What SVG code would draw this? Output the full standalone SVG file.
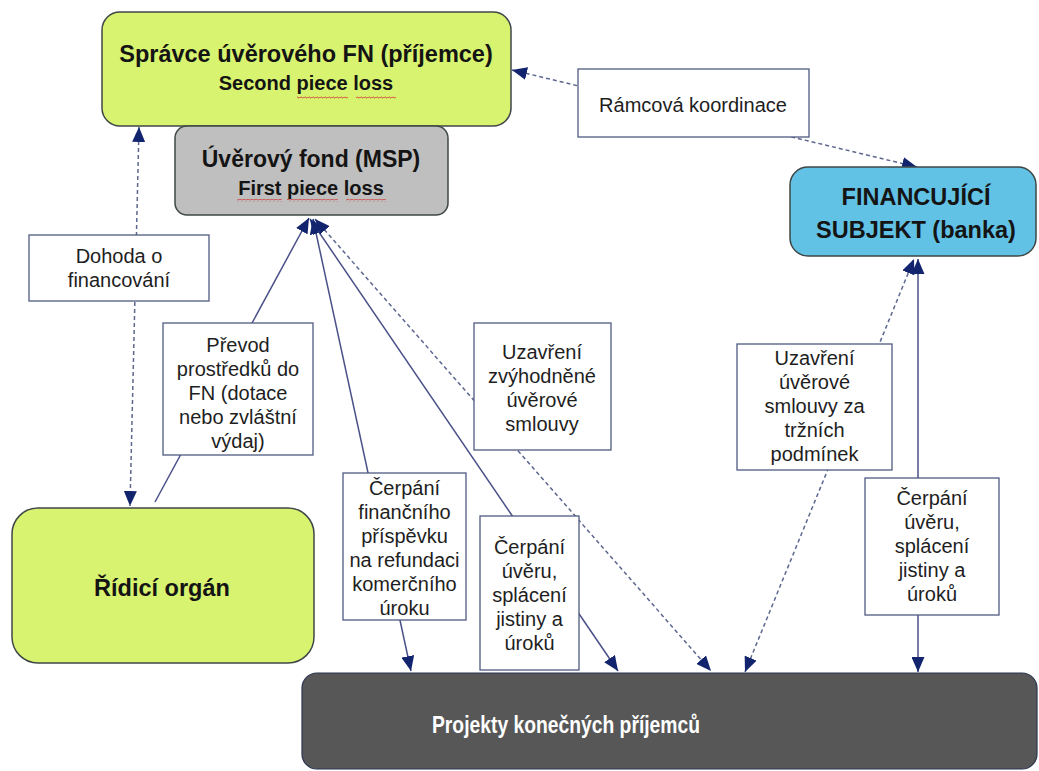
<svg xmlns="http://www.w3.org/2000/svg" width="1039" height="771" viewBox="0 0 1039 771">
<style>
.node{stroke:#3f4747;stroke-width:1.5}
.lbl{fill:#fff;stroke:#4e5a82;stroke-width:1.3}
.t{font-family:"Liberation Sans",Arial,sans-serif;font-size:20px;fill:#1e1e1e;text-anchor:middle}
.b{font-family:"Liberation Sans",Arial,sans-serif;font-weight:bold;fill:#141414;text-anchor:middle}
.solid{fill:none;stroke:#4a5088;stroke-width:1.5}
.dash{fill:none;stroke:#5d6790;stroke-width:1.5;stroke-dasharray:4 3}
.both{marker-start:url(#arr);marker-end:url(#arr)}
.end{marker-end:url(#arr)}
</style>
<defs>
<marker id="arr" markerUnits="userSpaceOnUse" markerWidth="15" markerHeight="13" viewBox="0 0 15 13" refX="15" refY="6.5" orient="auto-start-reverse">
<path d="M0,0 L15,6.5 L0,13 z" fill="#13246e"/>
</marker>
<pattern id="wave" patternUnits="userSpaceOnUse" width="4" height="3">
<path d="M0,2 L1,0.8 L3,2.2 L4,1" fill="none" stroke="#d23a3a" stroke-width="0.8"/>
</pattern>
</defs>
<rect width="1039" height="771" fill="#fff"/>

<g id="connectors">
<line class="dash both" x1="139" y1="127" x2="130" y2="506"/>
<line class="solid end" x1="155" y1="502" x2="309" y2="218"/>
<line class="solid both" x1="313" y1="219" x2="411" y2="671"/>
<line class="solid both" x1="310" y1="219" x2="618" y2="671"/>
<line class="dash both" x1="315" y1="219" x2="711" y2="671"/>
<line class="dash both" x1="512" y1="70" x2="917" y2="167"/>
<line class="dash both" x1="745" y1="672" x2="914" y2="259"/>
<line class="solid both" x1="918" y1="259" x2="918" y2="672"/>
</g>

<g id="spravce">
<rect class="node" x="102" y="12" width="409" height="114" rx="18" fill="#d8f36f"/>
<text class="b" x="306" y="62" font-size="23.5">Správce úvěrového FN (příjemce)</text>
<text class="b" x="306" y="90" font-size="20">Second piece loss</text>
<rect x="297" y="96" width="51" height="3" fill="url(#wave)"/>
<rect x="356" y="96" width="40" height="3" fill="url(#wave)"/>
</g>

<g id="fond">
<rect class="node" x="175" y="126" width="273" height="89" rx="12" fill="#bfbfbf"/>
<text class="b" x="311" y="167" font-size="23">Úvěrový fond (MSP)</text>
<text class="b" x="311" y="195" font-size="20">First piece loss</text>
<rect x="237" y="199" width="45" height="3" fill="url(#wave)"/>
<rect x="287" y="199" width="51" height="3" fill="url(#wave)"/>
<rect x="346" y="199" width="40" height="3" fill="url(#wave)"/>
</g>

<g id="ramcova">
<rect class="lbl" x="578" y="69" width="231" height="68"/>
<text class="t" x="693" y="112">Rámcová koordinace</text>
</g>

<g id="financujici">
<rect class="node" x="790" y="167" width="246" height="89" rx="18" fill="#62c2e5"/>
<text class="b" x="916" y="205" font-size="23.5">FINANCUJÍCÍ</text>
<text class="b" x="916" y="238" font-size="23.5">SUBJEKT (banka)</text>
</g>

<g id="dohoda">
<rect class="lbl" x="29" y="235" width="180" height="66"/>
<text class="t" x="119" y="263">Dohoda o</text>
<text class="t" x="119" y="287">financování</text>
</g>

<g id="prevod">
<rect class="lbl" x="163" y="323" width="150" height="132"/>
<text class="t" x="238" y="352">Převod</text>
<text class="t" x="238" y="376">prostředků do</text>
<text class="t" x="238" y="400">FN (dotace</text>
<text class="t" x="238" y="424">nebo zvláštní</text>
<text class="t" x="238" y="448">výdaj)</text>
</g>

<g id="uzavreni-zvyhodnene">
<rect class="lbl" x="474" y="323" width="137" height="127"/>
<text class="t" x="542" y="359">Uzavření</text>
<text class="t" x="542" y="383">zvýhodněné</text>
<text class="t" x="542" y="407">úvěrové</text>
<text class="t" x="542" y="431">smlouvy</text>
</g>

<g id="cerpani-prispevku">
<rect class="lbl" x="343" y="473" width="123" height="147"/>
<text class="t" x="404.5" y="495">Čerpání</text>
<text class="t" x="404.5" y="519">finančního</text>
<text class="t" x="404.5" y="543">příspěvku</text>
<text class="t" x="404.5" y="567">na refundaci</text>
<text class="t" x="404.5" y="591">komerčního</text>
<text class="t" x="404.5" y="615">úroku</text>
</g>

<g id="cerpani-uveru-fond">
<rect class="lbl" x="480" y="516" width="99" height="154"/>
<text class="t" x="529.5" y="554">Čerpání</text>
<text class="t" x="529.5" y="578">úvěru,</text>
<text class="t" x="529.5" y="602">splácení</text>
<text class="t" x="529.5" y="626">jistiny a</text>
<text class="t" x="529.5" y="650">úroků</text>
</g>

<g id="uzavreni-trzni">
<rect class="lbl" x="737" y="344" width="155" height="126"/>
<text class="t" x="814.5" y="365">Uzavření</text>
<text class="t" x="814.5" y="389">úvěrové</text>
<text class="t" x="814.5" y="413">smlouvy za</text>
<text class="t" x="814.5" y="437">tržních</text>
<text class="t" x="814.5" y="461">podmínek</text>
</g>

<g id="cerpani-uveru-banka">
<rect class="lbl" x="865" y="478" width="134" height="137"/>
<text class="t" x="932" y="505">Čerpání</text>
<text class="t" x="932" y="529">úvěru,</text>
<text class="t" x="932" y="553">splácení</text>
<text class="t" x="932" y="577">jistiny a</text>
<text class="t" x="932" y="601">úroků</text>
</g>

<g id="ridici-organ">
<rect class="node" x="12" y="508" width="302" height="155" rx="26" fill="#d8f36f"/>
<text class="b" x="162" y="596" font-size="23.5">Řídicí orgán</text>
</g>

<g id="projekty">
<rect x="302" y="673" width="735" height="96" rx="15" fill="#575757" stroke="#2b3550" stroke-width="1.2"/>
<text class="b" x="566" y="733" font-size="23" style="fill:#fff" textLength="268" lengthAdjust="spacingAndGlyphs">Projekty konečných příjemců</text>
</g>
</svg>
